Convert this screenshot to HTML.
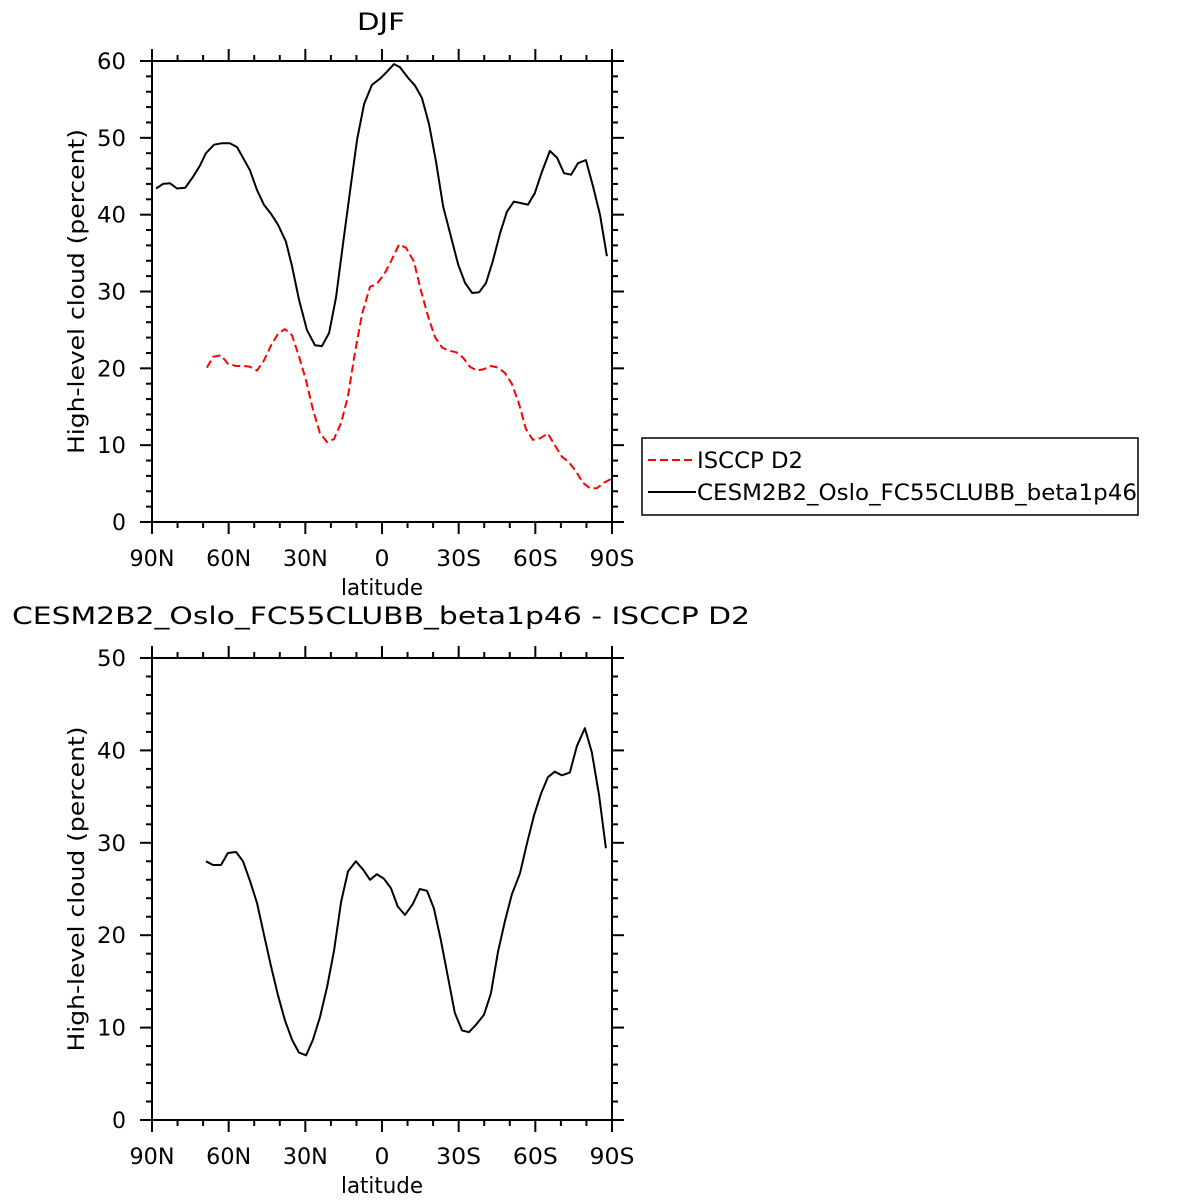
<!DOCTYPE html>
<html><head><meta charset="utf-8"><style>
body{margin:0;background:#fff;}
svg{display:block;font-family:"DejaVu Sans","Liberation Sans",sans-serif;}
</style></head><body>
<svg id="c" width="1204" height="1204" viewBox="0 0 1204 1204">
<rect width="1204" height="1204" fill="#fff"/>
</svg>
<script>
const xTickLats=[90,60,30,0,-30,-60,-90];
const xTickLabels=["90N","60N","30N","0","30S","60S","90S"];
const topYTicks=[0,10,20,30,40,50,60];
const botYTicks=[0,10,20,30,40,50];
const modelLat=[88.4,85.7,83,80.2,77,74,71.2,68.9,65.7,62.6,59.5,56.7,54.4,51.7,48.9,46.2,43.4,40.7,37.6,35.2,32.5,29.4,26.2,23.5,20.7,18,15.3,12.5,9.8,7,3.9,0.8,-1.9,-4.7,-7,-10.2,-12.9,-15.6,-18.4,-21.1,-23.9,-27,-29.8,-32.5,-35.3,-38,-40.7,-43.4,-46.2,-48.9,-51.6,-54.4,-57.1,-59.8,-62.6,-65.7,-68.5,-71.2,-74,-76.7,-79.8,-82.5,-85.3,-88];
const modelVal=[43.4,44.0,44.1,43.4,43.5,44.9,46.4,48.0,49.1,49.3,49.3,48.8,47.4,45.8,43.2,41.3,40.1,38.7,36.5,33.3,29.0,25.0,23.0,22.9,24.6,29.2,36.1,43.1,49.7,54.4,56.9,57.7,58.6,59.6,59.2,57.8,56.8,55.2,51.8,47.0,41.1,37.1,33.5,31.1,29.8,29.9,31.1,34.0,37.6,40.4,41.7,41.5,41.3,42.8,45.6,48.3,47.4,45.4,45.2,46.7,47.1,43.8,40.0,34.6];
const obsLat=[68.5,66.1,63,60.3,57.1,54,51.7,48.9,46.2,43.4,40.7,38,35.2,32.5,29.7,27,24.3,21.5,18.8,16,13.3,10.6,7.8,4.7,2,-0.8,-3.5,-6.6,-9.4,-12.5,-15.2,-18,-20.7,-23.5,-26.2,-29,-31.7,-34.4,-37.2,-39.9,-42.6,-45.4,-48.1,-50.8,-53.6,-56.3,-59,-61.8,-64.9,-67.6,-70.4,-73.1,-75.9,-78.6,-81.4,-84.1,-86.8,-89.6];
const obsVal=[20.1,21.5,21.7,20.6,20.3,20.3,20.2,19.7,21.0,23.0,24.5,25.1,24.3,21.6,18.4,14.6,11.6,10.4,10.8,12.9,16.4,22.0,27.1,30.6,31.0,32.2,33.9,36.1,35.7,33.9,30.2,26.8,24.1,22.7,22.3,22.1,21.4,20.2,19.7,19.9,20.3,20.1,19.4,18.0,15.4,12.1,10.7,10.9,11.5,10.0,8.5,7.8,6.6,5.1,4.4,4.4,5.1,5.6];
const diffLat=[68.9,66.1,63,60.3,57.1,54.4,51.7,48.9,46.2,43.4,40.7,38,35.2,32.5,29.7,27,24.3,21.5,18.8,16,13.3,10.2,7.4,4.7,2,-0.8,-3.5,-6.2,-9,-12.1,-14.8,-17.6,-20.3,-23,-25.8,-28.5,-31.3,-34,-36.8,-39.9,-42.6,-45.4,-48.1,-50.8,-54,-56.7,-59.5,-62.2,-64.9,-67.6,-70.4,-73.5,-76.3,-79.4,-82.1,-84.9,-87.6];
const diffVal=[28.0,27.6,27.6,28.9,29.0,28.0,25.9,23.5,20.1,16.6,13.5,10.8,8.7,7.3,7.0,8.7,11.1,14.4,18.3,23.6,26.9,28.0,27.1,26.0,26.6,26.1,25.1,23.1,22.2,23.4,25.0,24.8,22.9,19.5,15.5,11.6,9.7,9.5,10.3,11.4,13.7,18.2,21.5,24.4,26.7,29.9,33.0,35.3,37.1,37.7,37.3,37.6,40.5,42.4,39.8,35.2,29.4];

const svg=document.getElementById('c');
const NS='http://www.w3.org/2000/svg';
function mk(tag,attrs,parent){const e=document.createElementNS(NS,tag);for(const k in attrs)e.setAttribute(k,attrs[k]);(parent||svg).appendChild(e);return e;}
function txt(s,x,y,size,anchor,parent,rot,len){const t=mk('text',{x:x,y:y,'font-size':size,'text-anchor':anchor||'middle',fill:'#000'},parent);if(len){t.setAttribute('textLength',len);t.setAttribute('lengthAdjust','spacingAndGlyphs');}if(rot)t.setAttribute('transform','rotate(-90 '+x+' '+y+')');t.textContent=s;return t;}

function panel(name,top,bottom,ymax,yticks,series){
  const L=152,R=612;
  const g=mk('g',{});
  
  
  const xs=lat=>L+(90-lat)/180*(R-L);
  const ys=v=>bottom-v/ymax*(bottom-top);
  mk('rect',{x:L,y:top,width:R-L,height:bottom-top,fill:'none',stroke:'#000','stroke-width':2},g);
  for(let lat=90;lat>=-90;lat-=10){
    const major=lat%30===0;const len=major?12:6;const x=xs(lat);
    mk('line',{x1:x,y1:bottom,x2:x,y2:bottom+len,stroke:'#000','stroke-width':2},g);
    mk('line',{x1:x,y1:top,x2:x,y2:top-len,stroke:'#000','stroke-width':2},g);
  }
  xTickLats.forEach((lat,i)=>{const s=xTickLabels[i];const t=txt(s,xs(lat),bottom+44,22,'middle',g,false,s.length===1?15:45);
    
    });
  for(let v=0;v<=ymax;v+=2){
    const major=v%10===0;const len=major?12:6;const y=ys(v);
    mk('line',{x1:L,y1:y,x2:L-len,y2:y,stroke:'#000','stroke-width':2},g);
    mk('line',{x1:R,y1:y,x2:R+len,y2:y,stroke:'#000','stroke-width':2},g);
  }
  yticks.forEach(v=>{const s=String(v);const t=txt(s,126,ys(v)+8,22,'end',g,false,s.length===1?14:29);
    
    });
  const xt=txt('latitude',382,bottom+73,22,'middle',g,false,82);
  
  
  const yt=txt('High-level cloud (percent)',84,(top+bottom)/2,22,'middle',g,true,325);
  
  
  series.forEach(s=>{
    const d=s.lat.map((la,i)=>(i?'L':'M')+xs(la).toFixed(1)+' '+ys(s.val[i]).toFixed(1)).join(' ');
    const p=mk('path',{d:d,fill:'none',stroke:s.color,'stroke-width':2,'stroke-dasharray':s.dash||'none','stroke-linejoin':'round'},g);
    
    
  });
}
panel('top-panel',61,522,60,topYTicks,[
  {lat:obsLat,val:obsVal,color:'#f00',dash:'8 4',name:'isccp-line'},
  {lat:modelLat,val:modelVal,color:'#000',name:'model-line'}]);
panel('bottom-panel',658,1120,50,botYTicks,[
  {lat:diffLat,val:diffVal,color:'#000',name:'difference-line'}]);

const t1=txt('DJF',381,30,24,'middle',null,false,48);


const t2=txt('CESM2B2_Oslo_FC55CLUBB_beta1p46 - ISCCP D2',381,624,24,'middle',null,false,738);


const lg=mk('g',{});


mk('rect',{x:642,y:438,width:496,height:77,fill:'#fff',stroke:'#000','stroke-width':1.5},lg);
mk('line',{x1:648,y1:460,x2:696,y2:460,stroke:'#f00','stroke-width':2,'stroke-dasharray':'8 4'},lg);
mk('line',{x1:648,y1:492,x2:696,y2:492,stroke:'#000','stroke-width':2},lg);
const l1=txt('ISCCP D2',697,468,22,'start',lg,false,106);


const l2=txt('CESM2B2_Oslo_FC55CLUBB_beta1p46',697,500,22,'start',lg,false,440);


</script>
</body></html>
